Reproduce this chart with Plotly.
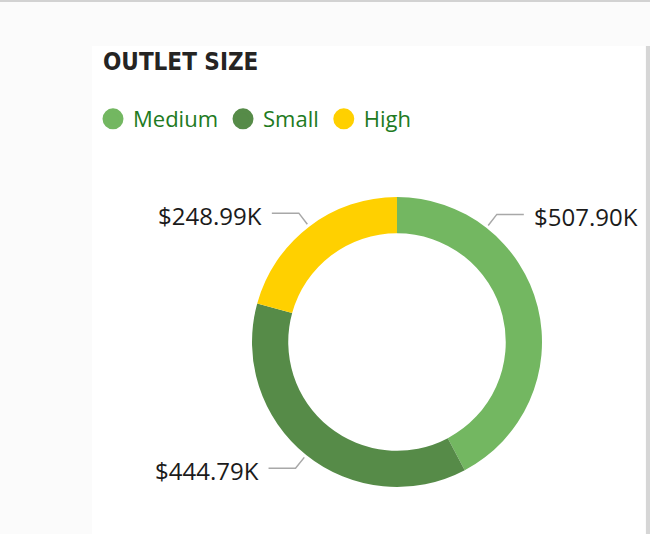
import math
import plotly.graph_objects as go

# outlet size -> sales (in thousands)
sizes = ["Medium", "Small", "High"]
sales_k = [507.90, 444.79, 248.99]
colors = ["#73B761", "#568B48", "#FFD000"]

W, H = 650, 534
cx, cy, r = 397, 342, 145          # donut centre / outer radius in pixels
label_frac = [0.25, 0.5, 0.5]       # where along each slice the callout sits


def px(x):
    return x / W


def py(y):
    return 1 - y / H


fig = go.Figure()

fig.add_trace(go.Pie(
    labels=sizes, values=sales_k, hole=0.75, sort=False,
    direction="clockwise", rotation=0,
    marker=dict(colors=colors, line=dict(width=0)),
    textinfo="none", showlegend=False,
    domain=dict(x=[px(cx - r), px(cx + r)], y=[py(cy + r), py(cy - r)]),
))

# legend with round markers (pie legend only does squares)
for name, col in zip(sizes, colors):
    fig.add_trace(go.Scatter(
        x=[None], y=[None], mode="markers", name=name,
        marker=dict(size=16, color=col, line=dict(width=5, color=col)),
    ))

# callout lines + value labels
shapes = []
annotations = []
total = sum(sales_k)
cum = 0
for v, f in zip(sales_k, label_frac):
    a = math.radians(360 * (cum + f * v) / total)
    cum += v
    s, c = math.sin(a), math.cos(a)
    x0, y0 = cx + s * (r + 3), cy - c * (r + 3)
    x1, y1 = cx + s * (r + 17), cy - c * (r + 17)
    side = 1 if s > 0 else -1
    x2 = x1 + side * 27
    shapes.append(dict(
        type="path", xref="paper", yref="paper",
        path=f"M {px(x0)} {py(y0)} L {px(x1)} {py(y1)} L {px(x2)} {py(y1)}",
        line=dict(color="#A8A8A8", width=1.5),
    ))
    annotations.append(dict(
        x=px(x2 + side * 8), y=py(y1 + 2), xref="paper", yref="paper",
        text=f"${v:.2f}K", showarrow=False,
        xanchor="left" if side > 0 else "right", yanchor="middle",
        font=dict(family="Segoe UI, Open Sans, sans-serif", size=24, color="#1B1B1B"),
    ))

annotations.append(dict(
    x=px(101), y=py(62), xref="paper", yref="paper",
    text="<b>OUTLET SIZE</b>", showarrow=False, xanchor="left", yanchor="middle",
    font=dict(family="DejaVu Sans Condensed, DejaVu Sans", size=24, color="#252423"),
))

# page frame: white panel, grey edges
shapes = [
    dict(type="rect", xref="paper", yref="paper", layer="below",
         x0=px(92), x1=px(645), y0=0, y1=py(46),
         fillcolor="white", line=dict(width=0)),
    dict(type="rect", xref="paper", yref="paper", layer="below",
         x0=0, x1=1, y0=py(2), y1=1,
         fillcolor="#D2D2D2", line=dict(width=0)),
    dict(type="rect", xref="paper", yref="paper", layer="below",
         x0=px(646), x1=1, y0=0, y1=py(46),
         fillcolor="#D6D6D6", line=dict(width=0)),
] + shapes

fig.update_layout(
    width=W, height=H,
    margin=dict(l=0, r=0, t=0, b=0),
    paper_bgcolor="#FBFBFB", plot_bgcolor="rgba(0,0,0,0)",
    xaxis=dict(visible=False), yaxis=dict(visible=False),
    legend=dict(
        orientation="h", x=px(93), y=py(119), xanchor="left", yanchor="middle",
        font=dict(family="Segoe UI, Open Sans, sans-serif", size=22, color="#217A21"),
        bgcolor="rgba(0,0,0,0)", itemclick=False,
    ),
    shapes=shapes,
    annotations=annotations,
)

fig.write_html("out.html", config={"displayModeBar": False},
               post_script="document.body.style.margin='0';")
